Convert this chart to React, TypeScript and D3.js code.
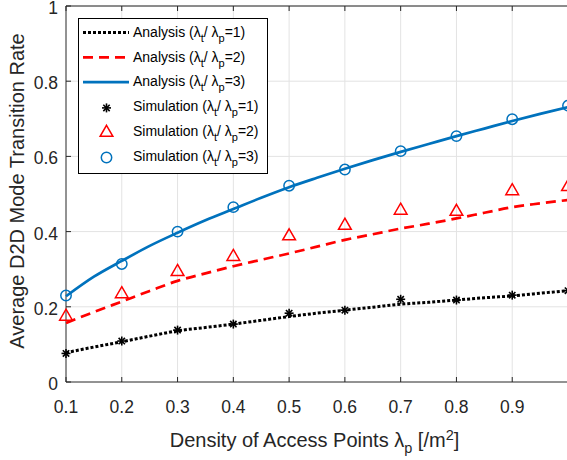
import React, { useRef, useEffect } from 'react'
import * as d3 from 'd3'

// x positions (density of access points)
const simX = [0.1, 0.2, 0.3, 0.4, 0.5, 0.6, 0.7, 0.8, 0.9, 1.0]
const analysisX = [0.1, 0.15, 0.2, 0.25, 0.3, 0.35, 0.4, 0.45, 0.5, 0.55, 0.6, 0.65, 0.7, 0.75, 0.8, 0.85, 0.9, 0.95, 1.0]

// analysis curves
const analysis1 = [0.078, 0.093, 0.107, 0.122, 0.136, 0.145, 0.154, 0.164, 0.174, 0.183, 0.191, 0.199, 0.207, 0.212, 0.218, 0.224, 0.229, 0.236, 0.243]
const analysis2 = [0.157, 0.186, 0.214, 0.242, 0.269, 0.289, 0.308, 0.325, 0.342, 0.360, 0.378, 0.393, 0.408, 0.421, 0.435, 0.450, 0.465, 0.475, 0.484]
const analysis3 = [0.228, 0.28, 0.322, 0.362, 0.397, 0.43, 0.46, 0.49, 0.518, 0.543, 0.567, 0.59, 0.612, 0.633, 0.654, 0.674, 0.694, 0.713, 0.731]

// simulation points
const sim1 = [0.076, 0.109, 0.138, 0.154, 0.183, 0.191, 0.220, 0.218, 0.231, 0.243]
const sim2 = [0.174, 0.234, 0.293, 0.333, 0.388, 0.416, 0.456, 0.453, 0.508, 0.519]
const sim3 = [0.230, 0.314, 0.400, 0.465, 0.522, 0.565, 0.614, 0.654, 0.699, 0.735]

const xTicks = [0.1, 0.2, 0.3, 0.4, 0.5, 0.6, 0.7, 0.8, 0.9, 1.0]
const xTickLabels = ['0.1', '0.2', '0.3', '0.4', '0.5', '0.6', '0.7', '0.8', '0.9', '']
const yTicks = [0, 0.2, 0.4, 0.6, 0.8, 1]
const yTickLabels = ['0', '0.2', '0.4', '0.6', '0.8', '1']

const BLUE = '#0072BD'
const RED = '#FF0000'
const FONT = 'Liberation Sans, Arial, Helvetica, sans-serif'

function App() {
  const chartRef = useRef<HTMLDivElement>(null)

  useEffect(() => {
    const width = 567
    const height = 460
    const container = d3.select(chartRef.current)
    container.html('')

    const svg = container.append('svg')
      .attr('width', width)
      .attr('height', height)
      .style('display', 'block')
      .style('font-family', FONT)

    const x = d3.scaleLinear().domain([0.1, 1.0]).range([66, 568])
    const y = d3.scaleLinear().domain([0, 1]).range([382, 6])

    const [x0, x1] = x.range()
    const [yb, yt] = y.range()

    // grid
    const grid = svg.append('g')
    grid.selectAll('line.gx').data(xTicks.slice(1)).enter().append('line')
      .attr('x1', d => x(d)).attr('x2', d => x(d))
      .attr('y1', yb).attr('y2', yt)
      .attr('stroke', '#e3e3e3').attr('stroke-width', 1)
    grid.selectAll('line.gy').data(yTicks.slice(1)).enter().append('line')
      .attr('x1', x0).attr('x2', x1)
      .attr('y1', d => y(d)).attr('y2', d => y(d))
      .attr('stroke', '#e3e3e3').attr('stroke-width', 1)

    // axes box
    const axisColor = '#262626'
    svg.append('line').attr('x1', x0).attr('x2', x1).attr('y1', yb).attr('y2', yb)
      .attr('stroke', axisColor).attr('stroke-width', 1)
    svg.append('line').attr('x1', x0).attr('x2', x1).attr('y1', yt).attr('y2', yt)
      .attr('stroke', axisColor).attr('stroke-width', 1)
    svg.append('line').attr('x1', x0).attr('x2', x0).attr('y1', yb).attr('y2', yt)
      .attr('stroke', axisColor).attr('stroke-width', 1)

    // ticks (inward)
    const tickLen = 5
    xTicks.forEach(t => {
      svg.append('line').attr('x1', x(t)).attr('x2', x(t)).attr('y1', yb).attr('y2', yb - tickLen)
        .attr('stroke', axisColor)
      svg.append('line').attr('x1', x(t)).attr('x2', x(t)).attr('y1', yt).attr('y2', yt + tickLen)
        .attr('stroke', axisColor)
    })
    yTicks.forEach(t => {
      svg.append('line').attr('x1', x0).attr('x2', x0 + tickLen).attr('y1', y(t)).attr('y2', y(t))
        .attr('stroke', axisColor)
    })

    // tick labels
    svg.selectAll('text.xt').data(xTicks).enter().append('text')
      .attr('x', d => x(d)).attr('y', 412.5)
      .attr('text-anchor', 'middle').attr('font-size', 17.5).attr('fill', axisColor)
      .text((d, i) => xTickLabels[i])
    svg.selectAll('text.yt').data(yTicks).enter().append('text')
      .attr('x', 58).attr('y', d => y(d) + 8)
      .attr('text-anchor', 'end').attr('font-size', 17.5).attr('fill', axisColor)
      .text((d, i) => yTickLabels[i])

    // axis labels
    const xl = svg.append('text')
      .attr('x', 314.5).attr('y', 447)
      .attr('text-anchor', 'middle').attr('font-size', 20).attr('fill', axisColor)
    xl.append('tspan').text('Density of Access Points λ')
    xl.append('tspan').attr('dy', 6).attr('font-size', 14.5).text('p')
    xl.append('tspan').attr('dy', -6).text(' [/m')
    xl.append('tspan').attr('dy', -7).attr('font-size', 14.5).text('2')
    xl.append('tspan').attr('dy', 7).text(']')

    svg.append('text')
      .attr('transform', `translate(24, ${(yb + yt) / 2 - 3}) rotate(-90)`)
      .attr('text-anchor', 'middle').attr('font-size', 20).attr('fill', axisColor)
      .text('Average D2D Mode Transition Rate')

    // lines
    const plot = svg.append('g')
    const line = d3.line<number>()
      .x((d, i) => x(analysisX[i]))
      .y(d => y(d))
      .curve(d3.curveMonotoneX)

    plot.append('path').datum(analysis3).attr('d', line)
      .attr('fill', 'none').attr('stroke', BLUE).attr('stroke-width', 2.7)
    plot.append('path').datum(analysis2).attr('d', line)
      .attr('fill', 'none').attr('stroke', RED).attr('stroke-width', 2.7)
      .attr('stroke-dasharray', '10,6')
    plot.append('path').datum(analysis1).attr('d', line)
      .attr('fill', 'none').attr('stroke', '#000').attr('stroke-width', 3)
      .attr('stroke-dasharray', '3,2')

    // markers
    const tri = d3.symbol().type(d3.symbolTriangle).size(70)

    const drawStar = (g: any, cx: number, cy: number) => {
      const s = g.append('g').attr('transform', `translate(${cx},${cy})`)
      ;[0, 45, 90, 135].forEach(a => {
        s.append('line')
          .attr('x1', -4.5).attr('x2', 4.5).attr('y1', 0).attr('y2', 0)
          .attr('transform', `rotate(${a})`)
          .attr('stroke', '#000').attr('stroke-width', 1.6)
      })
    }
    const drawTri = (g: any, cx: number, cy: number) => {
      g.append('path').attr('d', tri)
        .attr('transform', `translate(${cx},${cy})`)
        .attr('fill', 'none').attr('stroke', RED).attr('stroke-width', 1.5)
    }
    const drawCircle = (g: any, cx: number, cy: number) => {
      g.append('circle').attr('cx', cx).attr('cy', cy).attr('r', 5.2)
        .attr('fill', 'none').attr('stroke', BLUE).attr('stroke-width', 1.5)
    }

    simX.forEach((xv, i) => {
      drawStar(plot, x(xv), y(sim1[i]))
      drawTri(plot, x(xv), y(sim2[i]))
      drawCircle(plot, x(xv), y(sim3[i]))
    })

    // legend
    const lg = svg.append('g')
    lg.append('rect').attr('x', 78.5).attr('y', 18.5).attr('width', 189).attr('height', 155)
      .attr('fill', '#fff').attr('stroke', '#000').attr('stroke-width', 1)
    const rows = [
      { kind: 'line', stroke: '#000', dash: '3,2', sw: 3, label: 'Analysis', n: '1' },
      { kind: 'line', stroke: RED, dash: '10,6', sw: 2.7, label: 'Analysis', n: '2' },
      { kind: 'line', stroke: BLUE, dash: null, sw: 2.7, label: 'Analysis', n: '3' },
      { kind: 'star', label: 'Simulation', n: '1' },
      { kind: 'tri', label: 'Simulation', n: '2' },
      { kind: 'circle', label: 'Simulation', n: '3' },
    ]
    rows.forEach((r, i) => {
      const cy = 32.5 + i * 24.8
      if (r.kind === 'line') {
        lg.append('line').attr('x1', 83).attr('x2', 129).attr('y1', cy).attr('y2', cy)
          .attr('stroke', r.stroke as string).attr('stroke-width', r.sw as number)
          .attr('stroke-dasharray', r.dash as any)
      } else if (r.kind === 'star') {
        drawStar(lg, 106.5, cy + 1)
      } else if (r.kind === 'tri') {
        drawTri(lg, 106.5, cy + 1)
      } else {
        drawCircle(lg, 106.5, cy + 1)
      }
      const t = lg.append('text').attr('x', 133).attr('y', cy + 4.2)
        .attr('font-size', 14).attr('fill', '#000')
      t.append('tspan').text(`${r.label} (λ`)
      t.append('tspan').attr('dy', 5).attr('font-size', 11).text('t')
      t.append('tspan').attr('dy', -5).text('/ λ')
      t.append('tspan').attr('dy', 5).attr('font-size', 11).text('p')
      t.append('tspan').attr('dy', -5).text(`=${r.n})`)
    })

    return () => {
      svg.remove()
    }
  }, [])

  return (
    <div ref={chartRef} style={{ position: 'absolute', left: 0, top: 0, width: '567px', height: '460px', background: '#fff' }}></div>
  )
}

export default App
